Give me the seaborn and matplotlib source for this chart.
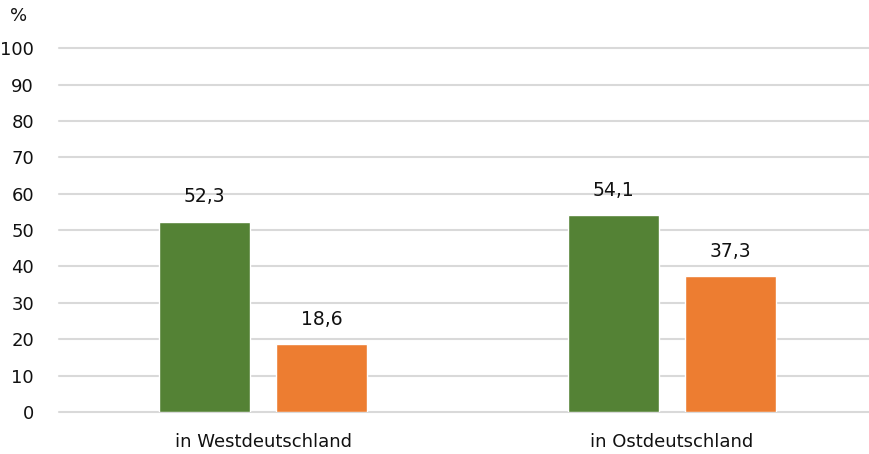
import pandas as pd
import matplotlib.pyplot as plt
import seaborn as sns

# Werte aus der Grafik
regions = ['in Westdeutschland', 'in Ostdeutschland']
series = ['A', 'B']
values_a = [52.3, 54.1]
values_b = [18.6, 37.3]
colors = ['#548235', '#ED7D31']

df = pd.DataFrame({
    'region': regions * 2,
    'serie': [series[0]] * 2 + [series[1]] * 2,
    'wert': values_a + values_b,
})

sns.set_style('white')
plt.rcParams['font.family'] = ['DejaVu Sans']

fig = plt.figure(figsize=(8.69, 4.54), dpi=100)
ax = fig.add_axes([0.068, 0.0925, 0.94, 0.8015])

sns.barplot(data=df, x='region', y='wert', hue='serie', palette=colors,
            width=0.574, gap=0.223, saturation=1, legend=False, ax=ax, zorder=3)

for cont in ax.containers:
    ax.bar_label(cont, labels=[f'{v:.1f}'.replace('.', ',') for v in cont.datavalues],
                 padding=11, fontsize=13.5, color='#111111')

ax.set_ylim(0, 100)
ax.set_yticks(range(0, 101, 10))
ax.grid(axis='y', color='#D9D9D9', linewidth=1.5, zorder=0)
ax.set_axisbelow(True)
for line in ax.get_ygridlines():
    line.set_clip_on(False)
sns.despine(ax=ax, left=True, top=True, right=True, bottom=True)
ax.tick_params(axis='both', length=0, labelsize=13, labelcolor='#111111')
ax.tick_params(axis='y', pad=18)
ax.tick_params(axis='x', pad=15)
ax.set_xlabel('')
ax.set_ylabel('')

fig.text(0.012, 0.965, '%', fontsize=13, color='#111111', va='center')

fig.savefig('out.png', dpi=100)
